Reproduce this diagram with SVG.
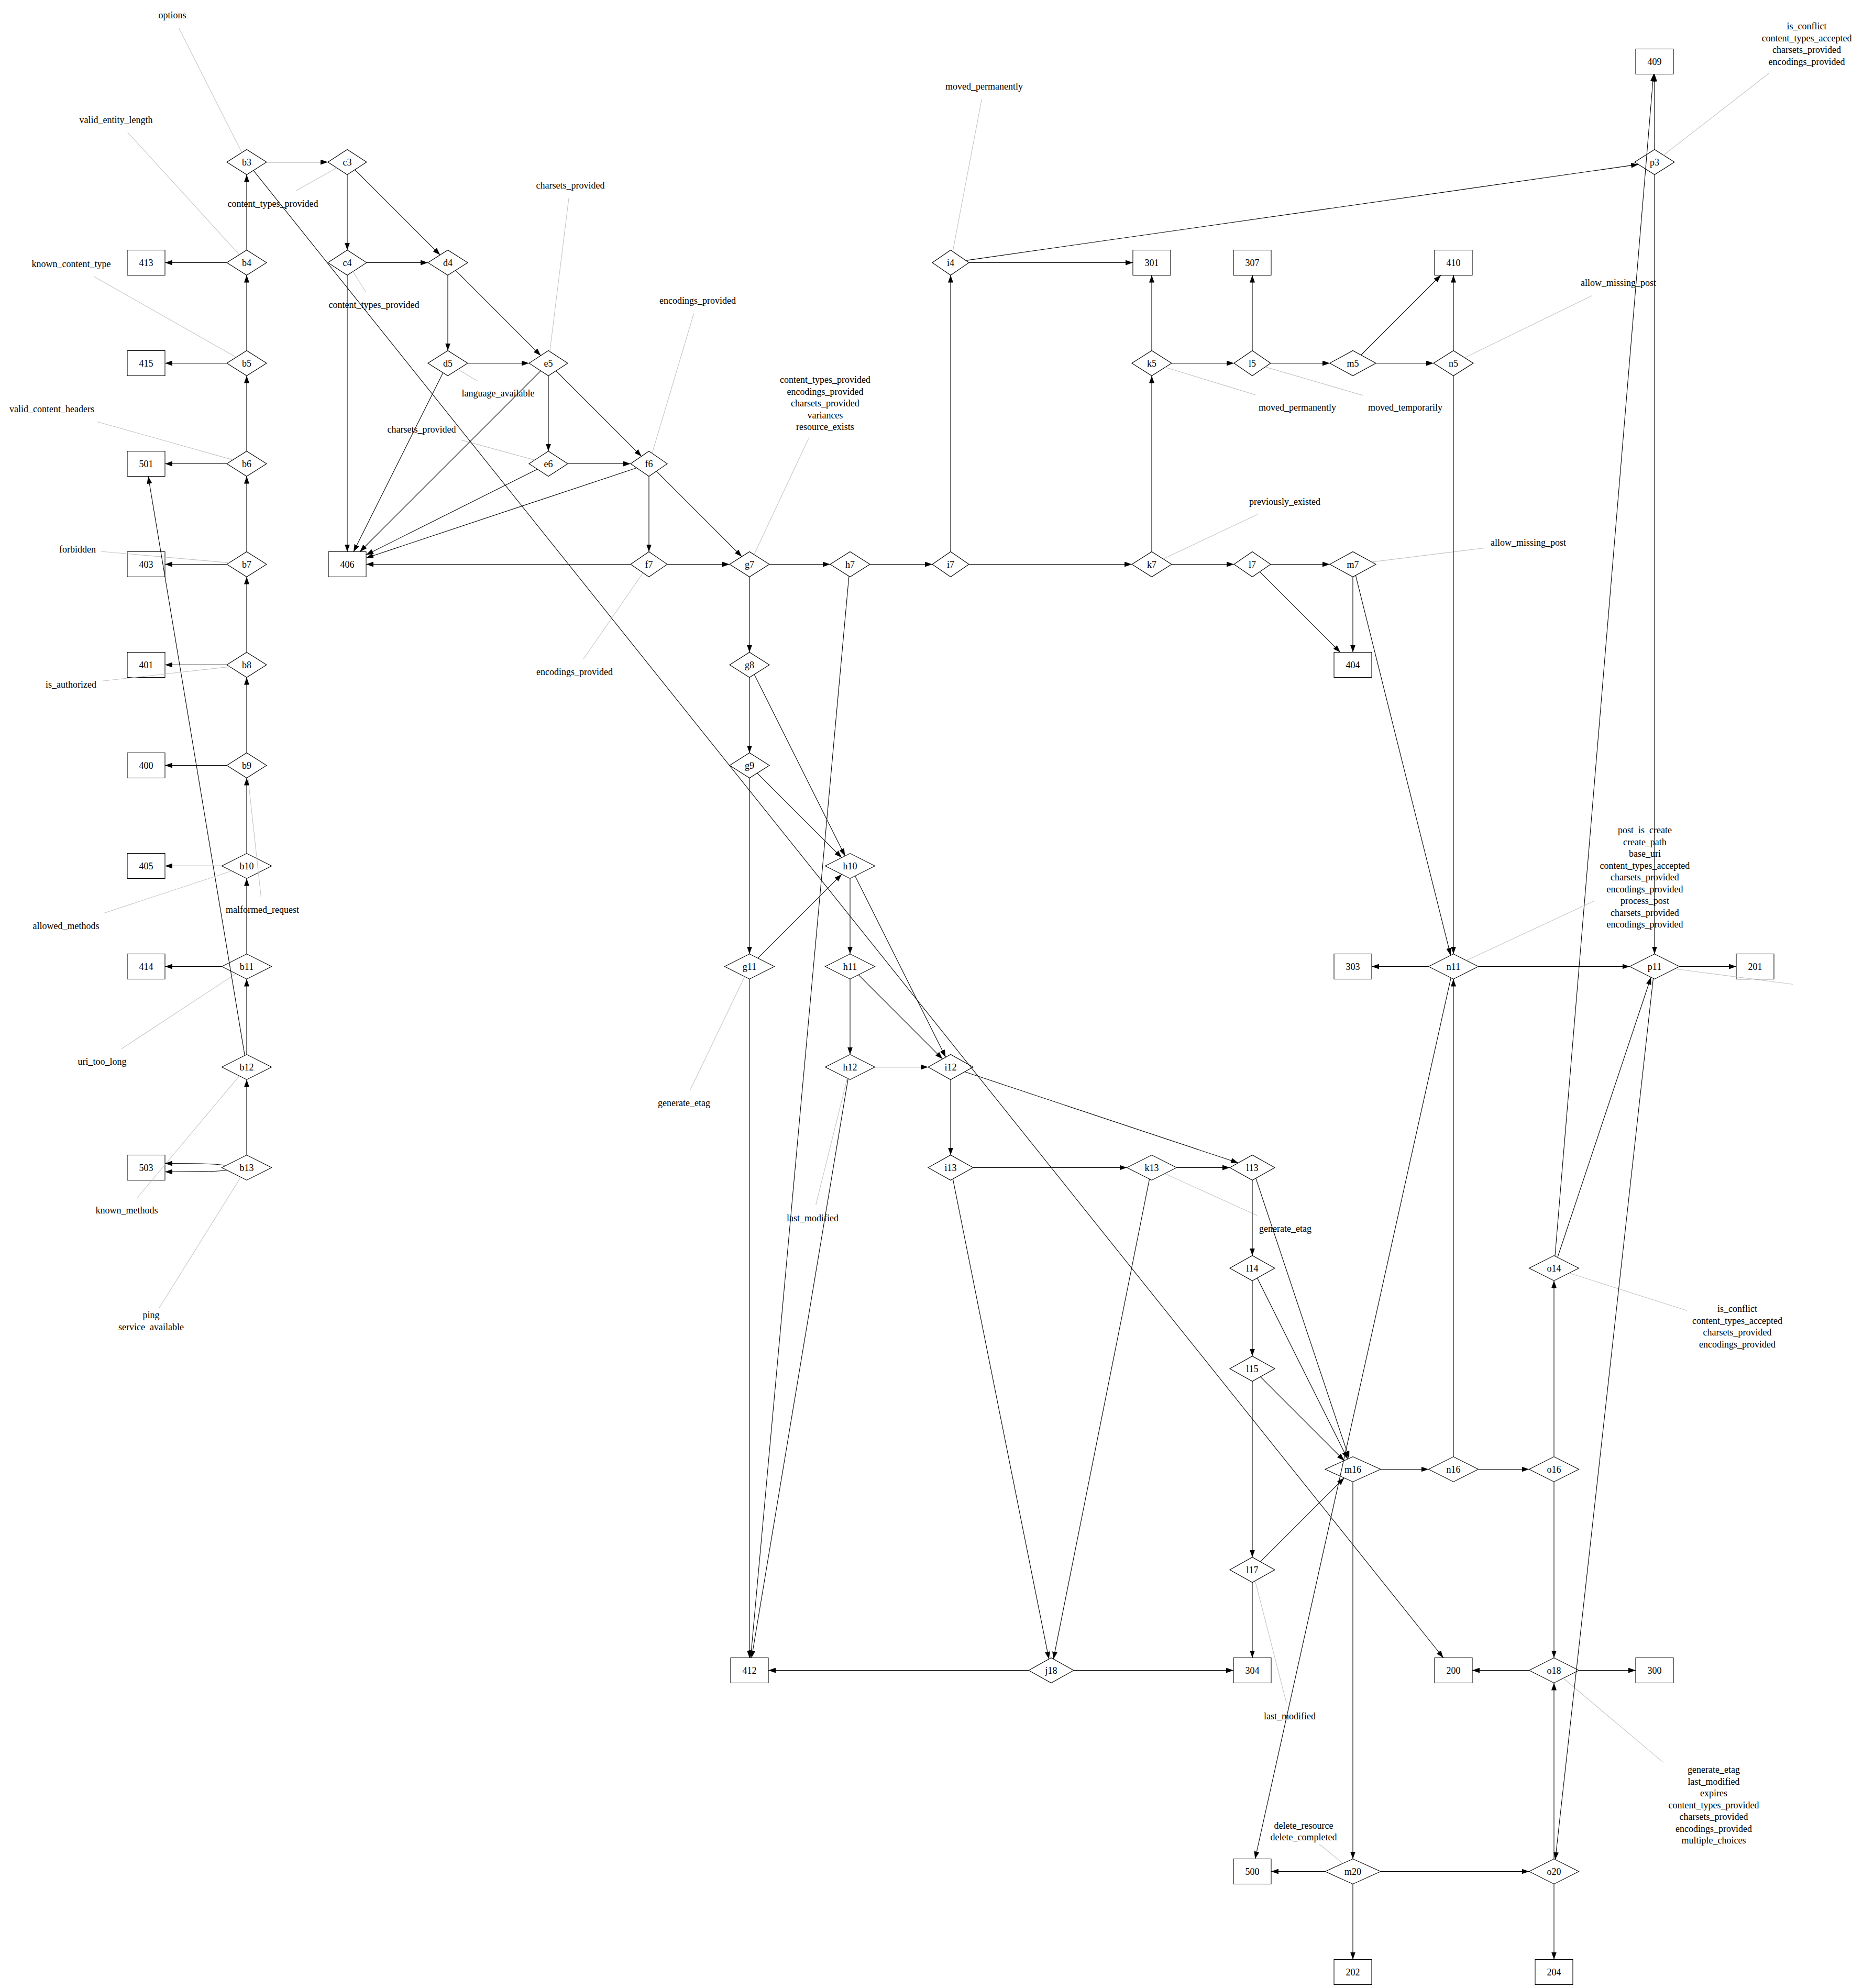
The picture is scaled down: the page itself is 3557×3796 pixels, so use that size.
<svg xmlns="http://www.w3.org/2000/svg" width="3557" height="3796" viewBox="0 0 3557 3796">
<style>
text{font-family:"Liberation Serif","Times New Roman",serif;font-size:18px;text-anchor:middle;fill:#000}
.n polygon,.n rect{fill:#fff;stroke:#000;stroke-width:1.1}
.e line,.e path{stroke:#000;stroke-width:1.1;fill:none;marker-end:url(#arr)}
.g line{stroke:#c4c4c4;stroke-width:1.1}
</style>
<defs>
<marker id="arr" viewBox="0 0 14 10" refX="14" refY="5" markerWidth="14" markerHeight="10" markerUnits="userSpaceOnUse" orient="auto"><path d="M0,0L14,5L0,10z" fill="#000"/></marker>
</defs>
<rect width="3557" height="3796" fill="#fff"/>

<g id="nodes" class="n">
<g id="node-b3"><polygon points="433,309.5 471,285.5 509,309.5 471,333.5"/><text x="471" y="315.5">b3</text></g>
<g id="node-b4"><polygon points="433,501.5 471,477.5 509,501.5 471,525.5"/><text x="471" y="507.5">b4</text></g>
<g id="node-b5"><polygon points="433,693.5 471,669.5 509,693.5 471,717.5"/><text x="471" y="699.5">b5</text></g>
<g id="node-b6"><polygon points="433,885.5 471,861.5 509,885.5 471,909.5"/><text x="471" y="891.5">b6</text></g>
<g id="node-b7"><polygon points="433,1077.5 471,1053.5 509,1077.5 471,1101.5"/><text x="471" y="1083.5">b7</text></g>
<g id="node-b8"><polygon points="433,1269.5 471,1245.5 509,1269.5 471,1293.5"/><text x="471" y="1275.5">b8</text></g>
<g id="node-b9"><polygon points="433,1461.5 471,1437.5 509,1461.5 471,1485.5"/><text x="471" y="1467.5">b9</text></g>
<g id="node-b10"><polygon points="423.5,1653.5 471,1629.5 518.5,1653.5 471,1677.5"/><text x="471" y="1659.5">b10</text></g>
<g id="node-b11"><polygon points="423.5,1845.5 471,1821.5 518.5,1845.5 471,1869.5"/><text x="471" y="1851.5">b11</text></g>
<g id="node-b12"><polygon points="423.5,2037.5 471,2013.5 518.5,2037.5 471,2061.5"/><text x="471" y="2043.5">b12</text></g>
<g id="node-b13"><polygon points="423.5,2229.5 471,2205.5 518.5,2229.5 471,2253.5"/><text x="471" y="2235.5">b13</text></g>
<g id="node-c3"><polygon points="626,309.5 663,285.5 700,309.5 663,333.5"/><text x="663" y="315.5">c3</text></g>
<g id="node-c4"><polygon points="626,501.5 663,477.5 700,501.5 663,525.5"/><text x="663" y="507.5">c4</text></g>
<g id="node-d4"><polygon points="817,501.5 855,477.5 893,501.5 855,525.5"/><text x="855" y="507.5">d4</text></g>
<g id="node-d5"><polygon points="817,693.5 855,669.5 893,693.5 855,717.5"/><text x="855" y="699.5">d5</text></g>
<g id="node-e5"><polygon points="1010,693.5 1047,669.5 1084,693.5 1047,717.5"/><text x="1047" y="699.5">e5</text></g>
<g id="node-e6"><polygon points="1010,885.5 1047,861.5 1084,885.5 1047,909.5"/><text x="1047" y="891.5">e6</text></g>
<g id="node-f6"><polygon points="1204,885.5 1239,861.5 1274,885.5 1239,909.5"/><text x="1239" y="891.5">f6</text></g>
<g id="node-f7"><polygon points="1204,1077.5 1239,1053.5 1274,1077.5 1239,1101.5"/><text x="1239" y="1083.5">f7</text></g>
<g id="node-g7"><polygon points="1393,1077.5 1431,1053.5 1469,1077.5 1431,1101.5"/><text x="1431" y="1083.5">g7</text></g>
<g id="node-g8"><polygon points="1393,1269.5 1431,1245.5 1469,1269.5 1431,1293.5"/><text x="1431" y="1275.5">g8</text></g>
<g id="node-g9"><polygon points="1393,1461.5 1431,1437.5 1469,1461.5 1431,1485.5"/><text x="1431" y="1467.5">g9</text></g>
<g id="node-g11"><polygon points="1383.5,1845.5 1431,1821.5 1478.5,1845.5 1431,1869.5"/><text x="1431" y="1851.5">g11</text></g>
<g id="node-h7"><polygon points="1585,1077.5 1623,1053.5 1661,1077.5 1623,1101.5"/><text x="1623" y="1083.5">h7</text></g>
<g id="node-h10"><polygon points="1575.5,1653.5 1623,1629.5 1670.5,1653.5 1623,1677.5"/><text x="1623" y="1659.5">h10</text></g>
<g id="node-h11"><polygon points="1575.5,1845.5 1623,1821.5 1670.5,1845.5 1623,1869.5"/><text x="1623" y="1851.5">h11</text></g>
<g id="node-h12"><polygon points="1575.5,2037.5 1623,2013.5 1670.5,2037.5 1623,2061.5"/><text x="1623" y="2043.5">h12</text></g>
<g id="node-i4"><polygon points="1780,501.5 1815,477.5 1850,501.5 1815,525.5"/><text x="1815" y="507.5">i4</text></g>
<g id="node-i7"><polygon points="1780,1077.5 1815,1053.5 1850,1077.5 1815,1101.5"/><text x="1815" y="1083.5">i7</text></g>
<g id="node-i12"><polygon points="1772,2037.5 1815,2013.5 1858,2037.5 1815,2061.5"/><text x="1815" y="2043.5">i12</text></g>
<g id="node-i13"><polygon points="1772,2229.5 1815,2205.5 1858,2229.5 1815,2253.5"/><text x="1815" y="2235.5">i13</text></g>
<g id="node-j18"><polygon points="1964,3189.5 2007,3165.5 2050,3189.5 2007,3213.5"/><text x="2007" y="3195.5">j18</text></g>
<g id="node-k5"><polygon points="2161,693.5 2199,669.5 2237,693.5 2199,717.5"/><text x="2199" y="699.5">k5</text></g>
<g id="node-k7"><polygon points="2161,1077.5 2199,1053.5 2237,1077.5 2199,1101.5"/><text x="2199" y="1083.5">k7</text></g>
<g id="node-k13"><polygon points="2151.5,2229.5 2199,2205.5 2246.5,2229.5 2199,2253.5"/><text x="2199" y="2235.5">k13</text></g>
<g id="node-l5"><polygon points="2356,693.5 2391,669.5 2426,693.5 2391,717.5"/><text x="2391" y="699.5">l5</text></g>
<g id="node-l7"><polygon points="2356,1077.5 2391,1053.5 2426,1077.5 2391,1101.5"/><text x="2391" y="1083.5">l7</text></g>
<g id="node-l13"><polygon points="2348,2229.5 2391,2205.5 2434,2229.5 2391,2253.5"/><text x="2391" y="2235.5">l13</text></g>
<g id="node-l14"><polygon points="2348,2421.5 2391,2397.5 2434,2421.5 2391,2445.5"/><text x="2391" y="2427.5">l14</text></g>
<g id="node-l15"><polygon points="2348,2613.5 2391,2589.5 2434,2613.5 2391,2637.5"/><text x="2391" y="2619.5">l15</text></g>
<g id="node-l17"><polygon points="2348,2997.5 2391,2973.5 2434,2997.5 2391,3021.5"/><text x="2391" y="3003.5">l17</text></g>
<g id="node-m5"><polygon points="2539,693.5 2583,669.5 2627,693.5 2583,717.5"/><text x="2583" y="699.5">m5</text></g>
<g id="node-m7"><polygon points="2539,1077.5 2583,1053.5 2627,1077.5 2583,1101.5"/><text x="2583" y="1083.5">m7</text></g>
<g id="node-m16"><polygon points="2530,2805.5 2583,2781.5 2636,2805.5 2583,2829.5"/><text x="2583" y="2811.5">m16</text></g>
<g id="node-m20"><polygon points="2530,3573.5 2583,3549.5 2636,3573.5 2583,3597.5"/><text x="2583" y="3579.5">m20</text></g>
<g id="node-n5"><polygon points="2737,693.5 2775,669.5 2813,693.5 2775,717.5"/><text x="2775" y="699.5">n5</text></g>
<g id="node-n11"><polygon points="2727.5,1845.5 2775,1821.5 2822.5,1845.5 2775,1869.5"/><text x="2775" y="1851.5">n11</text></g>
<g id="node-n16"><polygon points="2727.5,2805.5 2775,2781.5 2822.5,2805.5 2775,2829.5"/><text x="2775" y="2811.5">n16</text></g>
<g id="node-o14"><polygon points="2919.5,2421.5 2967,2397.5 3014.5,2421.5 2967,2445.5"/><text x="2967" y="2427.5">o14</text></g>
<g id="node-o16"><polygon points="2919.5,2805.5 2967,2781.5 3014.5,2805.5 2967,2829.5"/><text x="2967" y="2811.5">o16</text></g>
<g id="node-o18"><polygon points="2919.5,3189.5 2967,3165.5 3014.5,3189.5 2967,3213.5"/><text x="2967" y="3195.5">o18</text></g>
<g id="node-o20"><polygon points="2919.5,3573.5 2967,3549.5 3014.5,3573.5 2967,3597.5"/><text x="2967" y="3579.5">o20</text></g>
<g id="node-p3"><polygon points="3121,309.5 3159,285.5 3197,309.5 3159,333.5"/><text x="3159" y="315.5">p3</text></g>
<g id="node-p11"><polygon points="3111.5,1845.5 3159,1821.5 3206.5,1845.5 3159,1869.5"/><text x="3159" y="1851.5">p11</text></g>

<g id="node-413"><rect x="243" y="477.5" width="72" height="48"/><text x="279" y="507.5">413</text></g>
<g id="node-415"><rect x="243" y="669.5" width="72" height="48"/><text x="279" y="699.5">415</text></g>
<g id="node-501"><rect x="243" y="861.5" width="72" height="48"/><text x="279" y="891.5">501</text></g>
<g id="node-403"><rect x="243" y="1053.5" width="72" height="48"/><text x="279" y="1083.5">403</text></g>
<g id="node-401"><rect x="243" y="1245.5" width="72" height="48"/><text x="279" y="1275.5">401</text></g>
<g id="node-400"><rect x="243" y="1437.5" width="72" height="48"/><text x="279" y="1467.5">400</text></g>
<g id="node-405"><rect x="243" y="1629.5" width="72" height="48"/><text x="279" y="1659.5">405</text></g>
<g id="node-414"><rect x="243" y="1821.5" width="72" height="48"/><text x="279" y="1851.5">414</text></g>
<g id="node-503"><rect x="243" y="2205.5" width="72" height="48"/><text x="279" y="2235.5">503</text></g>
<g id="node-406"><rect x="627" y="1053.5" width="72" height="48"/><text x="663" y="1083.5">406</text></g>
<g id="node-412"><rect x="1395" y="3165.5" width="72" height="48"/><text x="1431" y="3195.5">412</text></g>
<g id="node-304"><rect x="2355" y="3165.5" width="72" height="48"/><text x="2391" y="3195.5">304</text></g>
<g id="node-200"><rect x="2739" y="3165.5" width="72" height="48"/><text x="2775" y="3195.5">200</text></g>
<g id="node-300"><rect x="3123" y="3165.5" width="72" height="48"/><text x="3159" y="3195.5">300</text></g>
<g id="node-500"><rect x="2355" y="3549.5" width="72" height="48"/><text x="2391" y="3579.5">500</text></g>
<g id="node-202"><rect x="2547" y="3741.5" width="72" height="48"/><text x="2583" y="3771.5">202</text></g>
<g id="node-204"><rect x="2931" y="3741.5" width="72" height="48"/><text x="2967" y="3771.5">204</text></g>
<g id="node-303"><rect x="2547" y="1821.5" width="72" height="48"/><text x="2583" y="1851.5">303</text></g>
<g id="node-201"><rect x="3315" y="1821.5" width="72" height="48"/><text x="3351" y="1851.5">201</text></g>
<g id="node-404"><rect x="2547" y="1245.5" width="72" height="48"/><text x="2583" y="1275.5">404</text></g>
<g id="node-301"><rect x="2163" y="477.5" width="72" height="48"/><text x="2199" y="507.5">301</text></g>
<g id="node-307"><rect x="2355" y="477.5" width="72" height="48"/><text x="2391" y="507.5">307</text></g>
<g id="node-410"><rect x="2739" y="477.5" width="72" height="48"/><text x="2775" y="507.5">410</text></g>
<g id="node-409"><rect x="3123" y="93.5" width="72" height="48"/><text x="3159" y="123.5">409</text></g>
</g>

<g id="notes">
<g id="note-b3"><text x="329" y="35">options</text></g>
<g id="note-b4"><text x="221.6" y="234.5">valid_entity_length</text></g>
<g id="note-b5"><text x="136" y="509.6">known_content_type</text></g>
<g id="note-b6"><text x="99" y="787">valid_content_headers</text></g>
<g id="note-b7"><text x="148" y="1055">forbidden</text></g>
<g id="note-b8"><text x="135.5" y="1313">is_authorized</text></g>
<g id="note-b9"><text x="501" y="1743">malformed_request</text></g>
<g id="note-b10"><text x="126" y="1773.5">allowed_methods</text></g>
<g id="note-b11"><text x="195" y="2033">uri_too_long</text></g>
<g id="note-b12"><text x="242" y="2317">known_methods</text></g>
<g id="note-b13"><text x="288.5"><tspan x="288.5" y="2517">ping</tspan><tspan x="288.5" y="2539.5">service_available</tspan></text></g>
<g id="note-c3"><text x="521" y="395">content_types_provided</text></g>
<g id="note-c4"><text x="714" y="588.2">content_types_provided</text></g>
<g id="note-e5"><text x="1089" y="360">charsets_provided</text></g>
<g id="note-d5"><text x="951" y="757.3">language_available</text></g>
<g id="note-e6"><text x="805" y="825.5">charsets_provided</text></g>
<g id="note-f6"><text x="1332" y="580">encodings_provided</text></g>
<g id="note-f7"><text x="1097" y="1289">encodings_provided</text></g>
<g id="note-g7"><text x="1575.4"><tspan x="1575.4" y="731">content_types_provided</tspan><tspan x="1575.4" y="753.5">encodings_provided</tspan><tspan x="1575.4" y="776">charsets_provided</tspan><tspan x="1575.4" y="798.5">variances</tspan><tspan x="1575.4" y="821">resource_exists</tspan></text></g>
<g id="note-i4"><text x="1879" y="171">moved_permanently</text></g>
<g id="note-k5"><text x="2477" y="784.4">moved_permanently</text></g>
<g id="note-l5"><text x="2683" y="784.4">moved_temporarily</text></g>
<g id="note-n5"><text x="3090" y="546">allow_missing_post</text></g>
<g id="note-k7"><text x="2453" y="963.8">previously_existed</text></g>
<g id="note-m7"><text x="2918" y="1042">allow_missing_post</text></g>
<g id="note-p3"><text x="3449.6"><tspan x="3449.6" y="56.25">is_conflict</tspan><tspan x="3449.6" y="78.75">content_types_accepted</tspan><tspan x="3449.6" y="101.25">charsets_provided</tspan><tspan x="3449.6" y="123.75">encodings_provided</tspan></text></g>
<g id="note-n11"><text x="3140.4"><tspan x="3140.4" y="1591.3">post_is_create</tspan><tspan x="3140.4" y="1613.8">create_path</tspan><tspan x="3140.4" y="1636.3">base_uri</tspan><tspan x="3140.4" y="1658.8">content_types_accepted</tspan><tspan x="3140.4" y="1681.3">charsets_provided</tspan><tspan x="3140.4" y="1703.8">encodings_provided</tspan><tspan x="3140.4" y="1726.3">process_post</tspan><tspan x="3140.4" y="1748.8">charsets_provided</tspan><tspan x="3140.4" y="1771.3">encodings_provided</tspan></text></g>
<g id="note-g11"><text x="1306" y="2112">generate_etag</text></g>
<g id="note-h12"><text x="1551.5" y="2331.5">last_modified</text></g>
<g id="note-k13"><text x="2454" y="2351.5">generate_etag</text></g>
<g id="note-o14"><text x="3317"><tspan x="3317" y="2505.25">is_conflict</tspan><tspan x="3317" y="2527.75">content_types_accepted</tspan><tspan x="3317" y="2550.25">charsets_provided</tspan><tspan x="3317" y="2572.75">encodings_provided</tspan></text></g>
<g id="note-l17"><text x="2462.6" y="3282.6">last_modified</text></g>
<g id="note-o18"><text x="3272"><tspan x="3272" y="3385">generate_etag</tspan><tspan x="3272" y="3407.5">last_modified</tspan><tspan x="3272" y="3430">expires</tspan><tspan x="3272" y="3452.5">content_types_provided</tspan><tspan x="3272" y="3475">charsets_provided</tspan><tspan x="3272" y="3497.5">encodings_provided</tspan><tspan x="3272" y="3520">multiple_choices</tspan></text></g>
<g id="note-m20"><text x="2489"><tspan x="2489" y="3491.75">delete_resource</tspan><tspan x="2489" y="3514.25">delete_completed</tspan></text></g>
</g>

<g id="note-links" class="g">
<line x1="341.3" y1="53.25" x2="461.8" y2="291.3"/>
<line x1="243.7" y1="252.75" x2="457.1" y2="486.3"/>
<line x1="178.8" y1="527.85" x2="451" y2="682.15"/>
<line x1="185.3" y1="805.25" x2="444.7" y2="878.1"/>
<line x1="193" y1="1053" x2="437.7" y2="1074.6"/>
<line x1="194" y1="1300.5" x2="438.7" y2="1273.1"/>
<line x1="498.4" y1="1712.75" x2="473.4" y2="1483.95"/>
<line x1="199.4" y1="1743.25" x2="442.3" y2="1663"/>
<line x1="231.9" y1="2002.75" x2="450.4" y2="1859.1"/>
<line x1="262.3" y1="2286.75" x2="456.9" y2="2054.4"/>
<line x1="303.8" y1="2497.8" x2="459.6" y2="2247.75"/>
<line x1="564.7" y1="364.5" x2="643.1" y2="320.6"/>
<line x1="698.5" y1="557.7" x2="673.8" y2="518.5"/>
<line x1="1086" y1="378.5" x2="1049.7" y2="671.3"/>
<line x1="910.3" y1="726.8" x2="874.5" y2="705.2"/>
<line x1="880.5" y1="840.1" x2="1021" y2="878.4"/>
<line x1="1324.7" y1="598.5" x2="1245" y2="865.6"/>
<line x1="1113.9" y1="1258.5" x2="1227.7" y2="1093.8"/>
<line x1="1543.8" y1="837.25" x2="1439.7" y2="1059"/>
<line x1="1874.3" y1="189.5" x2="1819" y2="480.3"/>
<line x1="2396.8" y1="753.9" x2="2224.6" y2="701.3"/>
<line x1="2602" y1="754.85" x2="2415.6" y2="700.6"/>
<line x1="3039.7" y1="564.5" x2="2796.5" y2="683.05"/>
<line x1="2401" y1="982.3" x2="2220.8" y2="1067.2"/>
<line x1="2836" y1="1046.2" x2="2618.9" y2="1073.1"/>
<line x1="3377.4" y1="140" x2="3176" y2="296.3"/>
<line x1="3044.4" y1="1720" x2="2799.7" y2="1834"/>
<line x1="3201" y1="1850.5" x2="3423.5" y2="1879.5"/>
<line x1="1317.75" y1="2081.5" x2="1421.7" y2="1864.8"/>
<line x1="1557.6" y1="2301" x2="1617.7" y2="2058.8"/>
<line x1="2400.1" y1="2321" x2="2224" y2="2240.9"/>
<line x1="3221" y1="2502.4" x2="2996.1" y2="2430.8"/>
<line x1="2456.3" y1="3252.1" x2="2396.4" y2="3018.5"/>
<line x1="3175.5" y1="3365.2" x2="2984.8" y2="3204.5"/>
<line x1="2519.1" y1="3521.5" x2="2564" y2="3558.1"/>
</g>

<g id="edges" class="e">
<line x1="471" y1="2205.5" x2="471" y2="2061.5"/>
<line x1="471" y1="2013.5" x2="471" y2="1869.5"/>
<line x1="471" y1="1821.5" x2="471" y2="1677.5"/>
<line x1="471" y1="1629.5" x2="471" y2="1485.5"/>
<line x1="471" y1="1437.5" x2="471" y2="1293.5"/>
<line x1="471" y1="1245.5" x2="471" y2="1101.5"/>
<line x1="471" y1="1053.5" x2="471" y2="909.5"/>
<line x1="471" y1="861.5" x2="471" y2="717.5"/>
<line x1="471" y1="669.5" x2="471" y2="525.5"/>
<line x1="471" y1="477.5" x2="471" y2="333.5"/>
<line x1="433" y1="501.5" x2="315" y2="501.5"/>
<line x1="433" y1="693.5" x2="315" y2="693.5"/>
<line x1="433" y1="885.5" x2="315" y2="885.5"/>
<line x1="433" y1="1077.5" x2="315" y2="1077.5"/>
<line x1="433" y1="1269.5" x2="315" y2="1269.5"/>
<line x1="433" y1="1461.5" x2="315" y2="1461.5"/>
<line x1="423.5" y1="1653.5" x2="315" y2="1653.5"/>
<line x1="423.5" y1="1845.5" x2="315" y2="1845.5"/>
<line x1="467.3" y1="2015.4" x2="283" y2="909.5"/>
<path d="M429,2225 C405,2221.5 370,2221.5 315,2221.5"/>
<path d="M433,2234.5 C408,2237.5 370,2237.5 315,2237.5"/>
<line x1="509" y1="309.5" x2="626" y2="309.5"/>
<line x1="483.8" y1="325.4" x2="2755.8" y2="3165.5"/>
<line x1="663" y1="333.5" x2="663" y2="477.5"/>
<line x1="677.6" y1="324.1" x2="840.3" y2="486.8"/>
<line x1="700" y1="501.5" x2="817" y2="501.5"/>
<line x1="663" y1="525.5" x2="663" y2="1053.5"/>
<line x1="855" y1="525.5" x2="855" y2="669.5"/>
<line x1="869.7" y1="516.2" x2="1032.4" y2="678.9"/>
<line x1="893" y1="693.5" x2="1010" y2="693.5"/>
<line x1="845.9" y1="711.7" x2="675" y2="1053.5"/>
<line x1="1047" y1="717.5" x2="1047" y2="861.5"/>
<line x1="1061.6" y1="708.1" x2="1224.8" y2="871.3"/>
<line x1="1032.4" y1="708.1" x2="687" y2="1053.5"/>
<line x1="1084" y1="885.5" x2="1204" y2="885.5"/>
<line x1="1026.1" y1="895.9" x2="699" y2="1059.5"/>
<line x1="1239" y1="909.5" x2="1239" y2="1053.5"/>
<line x1="1253.2" y1="899.7" x2="1416.3" y2="1062.8"/>
<line x1="1215.4" y1="893.4" x2="699" y2="1065.5"/>
<line x1="1274" y1="1077.5" x2="1393" y2="1077.5"/>
<line x1="1204" y1="1077.5" x2="699" y2="1077.5"/>
<line x1="1469" y1="1077.5" x2="1585" y2="1077.5"/>
<line x1="1431" y1="1101.5" x2="1431" y2="1245.5"/>
<line x1="1431" y1="1293.5" x2="1431" y2="1437.5"/>
<line x1="1440.1" y1="1287.7" x2="1613.4" y2="1634.3"/>
<line x1="1431" y1="1485.5" x2="1431" y2="1821.5"/>
<line x1="1445.7" y1="1476.2" x2="1607.1" y2="1637.6"/>
<line x1="1446.9" y1="1829.6" x2="1607.1" y2="1669.4"/>
<line x1="1431" y1="1869.5" x2="1431" y2="3165.5"/>
<line x1="1661" y1="1077.5" x2="1780" y2="1077.5"/>
<line x1="1620.9" y1="1100.2" x2="1433.2" y2="3165.5"/>
<line x1="1623" y1="1677.5" x2="1623" y2="1821.5"/>
<line x1="1632.6" y1="1672.7" x2="1805.6" y2="2018.7"/>
<line x1="1623" y1="1869.5" x2="1623" y2="2013.5"/>
<line x1="1639" y1="1861.4" x2="1799.6" y2="2022.1"/>
<line x1="1670.5" y1="2037.5" x2="1772" y2="2037.5"/>
<line x1="1619.3" y1="2059.6" x2="1435" y2="3165.5"/>
<line x1="1815" y1="1053.5" x2="1815" y2="525.5"/>
<line x1="1850" y1="1077.5" x2="2161" y2="1077.5"/>
<line x1="1850" y1="501.5" x2="2163" y2="501.5"/>
<line x1="1844" y1="497.4" x2="3128" y2="313.9"/>
<line x1="1815" y1="2061.5" x2="1815" y2="2205.5"/>
<line x1="1841.9" y1="2046.5" x2="2364.1" y2="2220.5"/>
<line x1="1858" y1="2229.5" x2="2151.5" y2="2229.5"/>
<line x1="1819.3" y1="2251.1" x2="2002.7" y2="3167.9"/>
<line x1="2246.5" y1="2229.5" x2="2348" y2="2229.5"/>
<line x1="2194.6" y1="2251.3" x2="2011.3" y2="3167.9"/>
<line x1="1964" y1="3189.5" x2="1467" y2="3189.5"/>
<line x1="2050" y1="3189.5" x2="2355" y2="3189.5"/>
<line x1="2199" y1="1053.5" x2="2199" y2="717.5"/>
<line x1="2237" y1="1077.5" x2="2356" y2="1077.5"/>
<line x1="2199" y1="669.5" x2="2199" y2="525.5"/>
<line x1="2237" y1="693.5" x2="2356" y2="693.5"/>
<line x1="2391" y1="669.5" x2="2391" y2="525.5"/>
<line x1="2426" y1="693.5" x2="2539" y2="693.5"/>
<line x1="2598.5" y1="678" x2="2751" y2="525.5"/>
<line x1="2627" y1="693.5" x2="2737" y2="693.5"/>
<line x1="2775" y1="669.5" x2="2775" y2="525.5"/>
<line x1="2775" y1="717.5" x2="2775" y2="1821.5"/>
<line x1="2426" y1="1077.5" x2="2539" y2="1077.5"/>
<line x1="2405.2" y1="1091.7" x2="2559" y2="1245.5"/>
<line x1="2583" y1="1101.5" x2="2583" y2="1245.5"/>
<line x1="2588.3" y1="1098.6" x2="2769.7" y2="1824.2"/>
<line x1="2391" y1="2253.5" x2="2391" y2="2397.5"/>
<line x1="2397.7" y1="2249.7" x2="2576" y2="2784.6"/>
<line x1="2391" y1="2445.5" x2="2391" y2="2589.5"/>
<line x1="2400.4" y1="2440.3" x2="2573.2" y2="2785.9"/>
<line x1="2391" y1="2637.5" x2="2391" y2="2973.5"/>
<line x1="2406.4" y1="2628.9" x2="2566.5" y2="2789"/>
<line x1="2391" y1="3021.5" x2="2391" y2="3165.5"/>
<line x1="2406.4" y1="2982.1" x2="2566.5" y2="2822"/>
<line x1="2636" y1="2805.5" x2="2727.5" y2="2805.5"/>
<line x1="2583" y1="2829.5" x2="2583" y2="3549.5"/>
<line x1="2822.5" y1="2805.5" x2="2919.5" y2="2805.5"/>
<line x1="2775" y1="2781.5" x2="2775" y2="1869.5"/>
<line x1="2727.5" y1="1845.5" x2="2619" y2="1845.5"/>
<line x1="2822.5" y1="1845.5" x2="3111.5" y2="1845.5"/>
<line x1="2770.2" y1="1867.1" x2="2396.3" y2="3549.5"/>
<line x1="2530" y1="3573.5" x2="2427" y2="3573.5"/>
<line x1="2583" y1="3597.5" x2="2583" y2="3741.5"/>
<line x1="2636" y1="3573.5" x2="2919.5" y2="3573.5"/>
<line x1="2967" y1="2781.5" x2="2967" y2="2445.5"/>
<line x1="2967" y1="2829.5" x2="2967" y2="3165.5"/>
<line x1="2973.8" y1="2401" x2="3152.2" y2="1866"/>
<line x1="2968.9" y1="2398.5" x2="3157" y2="141.5"/>
<line x1="2919.5" y1="3189.5" x2="2811" y2="3189.5"/>
<line x1="3014.5" y1="3189.5" x2="3123" y2="3189.5"/>
<line x1="2967" y1="3549.5" x2="2967" y2="3213.5"/>
<line x1="2967" y1="3597.5" x2="2967" y2="3741.5"/>
<line x1="3206.5" y1="1845.5" x2="3315" y2="1845.5"/>
<line x1="3156.5" y1="1868.2" x2="2969.5" y2="3550.8"/>
<line x1="3159" y1="285.5" x2="3159" y2="141.5"/>
<line x1="3159" y1="333.5" x2="3159" y2="1821.5"/>
</g>
</svg>
